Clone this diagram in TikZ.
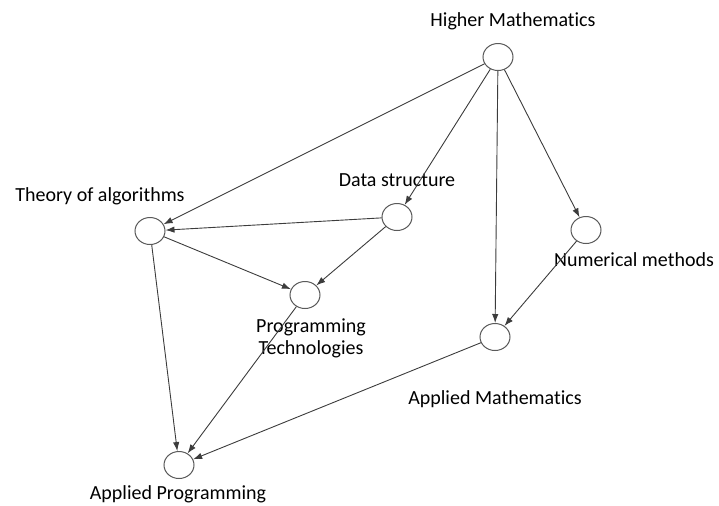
\documentclass[tikz,border=0pt]{standalone}
\usepackage{fontspec}
\setmainfont{Carlito}[Ligatures=NoCommon]
\usetikzlibrary{arrows.meta,shapes.geometric}
\definecolor{nodeline}{HTML}{5A5A5A}
\definecolor{edgeline}{HTML}{3C3C3C}
\tikzset{
  every node/.style={font=\fontsize{10}{11}\selectfont, text=black},
  vertex/.style={ellipse, draw=nodeline, line width=0.5pt, fill=white,
    minimum width=15pt, minimum height=13.5pt, inner sep=0pt},
  caption/.style={align=center, inner sep=0pt},
  flow/.style={-{Latex[length=4.5pt,width=3.2pt]}, line width=0.45pt,
    draw=edgeline},
}
\begin{document}
\begin{tikzpicture}[x=0.5pt,y=-0.5pt]
\useasboundingbox (0,0) rectangle (719,505);

% ---- Subjects ------------------------------------------------------------
\node[vertex] (hm) at (498,57)  {};
\node[vertex] (ta) at (150,231) {};
\node[vertex] (ds) at (397,217) {};
\node[vertex] (pt) at (305,295) {};
\node[vertex] (nm) at (586,230) {};
\node[vertex] (am) at (495,337) {};
\node[vertex] (ap) at (179,465) {};

% ---- Names ---------------------------------------------------------------
\node[caption] (l_hm) at (513,21)  {Higher Mathematics};
\node[caption] (l_ta) at (100,196) {Theory of algorithms};
\node[caption] (l_ds) at (397,180) {Data structure};
\node[caption] (l_pt) at (311,338) {Programming\\Technologies};
\node[caption] (l_nm) at (634,260) {Numerical methods};
\node[caption] (l_am) at (495,399) {Applied Mathematics};
\node[caption] (l_ap) at (178,494) {Applied Programming};

% ---- Prerequisites -------------------------------------------------------
\foreach \a/\b in {hm/ta,hm/ds,hm/am,hm/nm,ds/ta,ds/pt,ta/pt,ta/ap,pt/ap,nm/am,am/ap}
  \draw[flow] (\a) -- (\b);

\end{tikzpicture}
\end{document}
